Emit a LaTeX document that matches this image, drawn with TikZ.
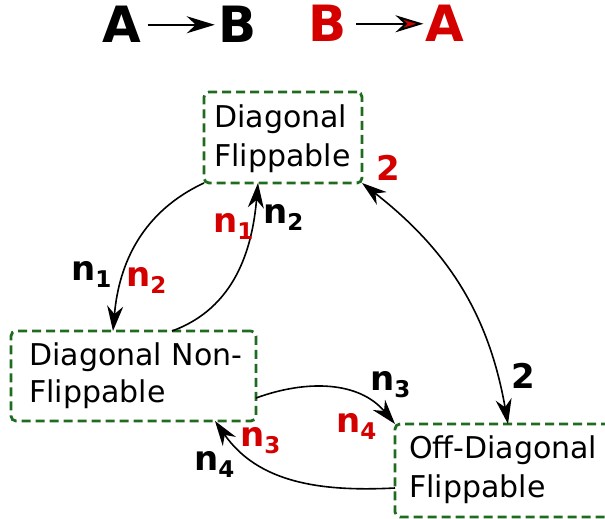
\documentclass[tikz,border=0pt]{standalone}
\usepackage{fontspec}
\setmainfont{DejaVu Sans}
\usetikzlibrary{arrows.meta,calc}
\definecolor{boxgreen}{rgb}{0.12,0.42,0.12}
\definecolor{lblred}{rgb}{0.83,0,0}
\tikzset{
 statebox/.style={draw=boxgreen, line width=2.8pt, dash pattern=on 9pt off 5pt, rounded corners=5pt, inner sep=0pt, outer sep=0pt},
 boxtext/.style={anchor=base west, inner sep=0pt, font=\fontsize{30}{34}\selectfont},
 tip/.tip={Stealth[length=25pt,width=16pt,inset=8pt]},
 conn/.style={line width=1.6pt, -tip},
 lbl/.style={anchor=base west, inner sep=0pt, font=\fontsize{34}{40}\selectfont\bfseries},
 big/.style={anchor=base, inner sep=0pt, font=\fontsize{50}{60}\selectfont\bfseries},
}
\newcommand{\nsub}[1]{n\raisebox{-7pt}{\fontsize{23}{23}\selectfont #1}}
\begin{document}
\begin{tikzpicture}[x=1pt,y=1pt]
\useasboundingbox (0,0) rectangle (605,-519);
% header
\node[big] (A1) at (122,-43) {A};
\node[big] (B1) at (238,-43) {B};
\node[big, text=lblred] (B2) at (328,-42) {B};
\node[big, text=lblred] (A2) at (445,-42) {A};
\draw[line width=2pt, -{Stealth[length=28pt,width=17pt,inset=9pt]}, shorten <=6pt, shorten >=4pt] (A1) -- (B1);
\draw[line width=2pt, -{Stealth[length=28pt,width=17pt,inset=9pt,fill=lblred]}, shorten <=9pt, shorten >=2pt] (B2) -- (A2);
% boxes
\node[statebox, minimum width=158pt, minimum height=91pt] (DF) at (283,-137.5) {};
\node[boxtext] (DFa) at (214,-127) {Diagonal};
\node[boxtext] (DFb) at (214,-166) {Flippable};
\node[statebox, minimum width=245pt, minimum height=90pt] (DNF) at (133.5,-376) {};
\node[boxtext] (DNFa) at (29,-365) {Diagonal Non-};
\node[boxtext] (DNFb) at (29,-402) {Flippable};
\node[statebox, minimum width=220pt, minimum height=93pt] (OFD) at (505,-470.5) {};
\node[boxtext] (OFDa) at (409,-458) {Off-Diagonal};
\node[boxtext] (OFDb) at (409,-497) {Flippable};
% connectors
\draw[conn] (DF.south west) to[out=205,in=85] ([xshift=-20.5pt]DNF.north);
\draw[conn] ([xshift=38.5pt]DNF.north) to[out=20,in=-95] ([xshift=-25pt]DF.south);
\draw[line width=1.6pt, tip-tip] (DF.south east) to[out=-38,in=100] ([xshift=3pt]OFD.north);
\draw[conn] ([yshift=-22pt]DNF.east) to[out=20,in=130] (OFD.north west);
\draw[conn] ([yshift=-17.5pt]OFD.west) to[out=183,in=-55] ([xshift=81.5pt]DNF.south);
% labels
\node[lbl] (l1) at (71,-280) {\nsub{1}};
\node[lbl, text=lblred] (l2) at (126,-286) {\nsub{2}};
\node[lbl, text=lblred] (l3) at (213,-232) {\nsub{1}};
\node[lbl] (l4) at (263,-223) {\nsub{2}};
\node[lbl, text=lblred] (l5) at (376,-180) {2};
\node[lbl] (l6) at (511,-388) {2};
\node[lbl] (l7) at (370,-390) {\nsub{3}};
\node[lbl, text=lblred] (l8) at (336,-432) {\nsub{4}};
\node[lbl, text=lblred] (l9) at (240,-446) {\nsub{3}};
\node[lbl] (l10) at (194,-470) {\nsub{4}};
\end{tikzpicture}
\end{document}
